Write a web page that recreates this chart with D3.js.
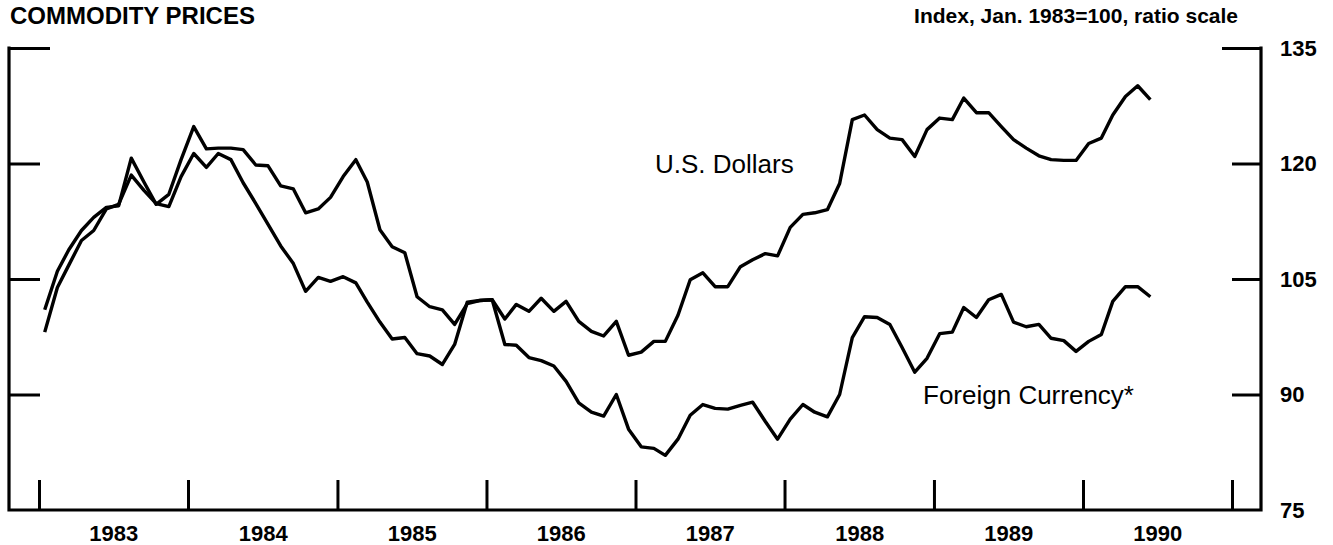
<!DOCTYPE html>
<html><head><meta charset="utf-8">
<script src="https://cdn.jsdelivr.net/npm/d3@7"></script>
<style>
body{margin:0;background:#fff}
svg{display:block}
text{font-family:"Liberation Sans",Arial,Helvetica,sans-serif;fill:#000}
</style>
</head><body>
<svg id="chart" width="1333" height="545"></svg>
<script>
// ---- data (monthly, Jan 1983 – Jun 1990) ----
const startYear = 1983;
const usDollars = [
  101.0,106.0,108.8,111.3,113.0,114.3,114.5,120.7,117.6,114.7,116.0,120.5,
  124.8,121.9,122.0,122.0,121.8,119.8,119.7,117.1,116.7,113.6,114.1,115.6,
  118.3,120.5,117.6,111.4,109.2,108.4,102.7,101.4,101.0,99.1,101.8,102.2,
  102.3,99.8,101.7,100.8,102.5,100.8,102.1,99.5,98.2,97.6,99.5,95.1,
  95.5,96.9,96.9,100.3,104.9,105.8,104.0,104.0,106.6,107.5,108.3,108.0,
  111.7,113.4,113.6,114.0,117.4,125.7,126.3,124.4,123.3,123.1,120.9,124.4,
  125.9,125.7,128.5,126.6,126.6,124.8,123.1,122.0,121.0,120.5,120.4,120.4,
  122.6,123.3,126.3,128.7,130.1,128.3
];
const foreignCurrency = [
  98.1,103.9,106.8,110.0,111.3,114.1,114.7,118.5,116.5,114.8,114.4,118.3,
  121.3,119.5,121.3,120.5,117.5,114.8,112.1,109.3,107.0,103.4,105.2,104.7,
  105.3,104.5,102.0,99.4,97.2,97.4,95.3,95.0,93.9,96.5,102.0,102.2,
  102.3,96.5,96.4,94.8,94.4,93.7,91.7,88.9,87.7,87.2,90.0,85.5,
  83.2,83.0,82.1,84.2,87.3,88.7,88.2,88.1,88.6,89.0,86.5,84.2,
  86.8,88.7,87.7,87.1,90.0,97.4,100.1,100.0,99.1,96.1,92.9,94.7,
  97.9,98.1,101.3,100.0,102.3,103.0,99.4,98.8,99.1,97.3,97.0,95.6,
  96.9,97.8,102.1,104.0,104.0,102.7
];
const yearTickYears = [1983,1984,1985,1986,1987,1988,1989,1990,1991];
const yearLabels = [1983,1984,1985,1986,1987,1988,1989,1990];
const yTickValues = [75,90,105,120,135];
const titleText = "COMMODITY PRICES";
const subtitleText = "Index, Jan. 1983=100, ratio scale";
const seriesLabels = ["U.S. Dollars","Foreign Currency*"];

// ---- layout ----
const svg = d3.select("#chart");
const left = 9, right = 1261;
const x = d3.scaleTime()
  .domain([new Date(1983,0,1), new Date(1991,0,1)])
  .range([39, 1232]);
const y = d3.scaleLinear().domain([75,135]).range([510,48]);
const monthDate = i => new Date(startYear, i, 15);

// title & subtitle
svg.append("text").attr("x",10).attr("y",24)
  .attr("font-size",24).attr("font-weight","bold").text(titleText);
svg.append("text").attr("x",1238).attr("y",23).attr("text-anchor","end")
  .attr("font-size",21).attr("font-weight","bold").text(subtitleText);

// frame
svg.append("path")
  .attr("d",`M${left},${y(135)}V${y(75)}H${right}V${y(135)}`)
  .attr("fill","none").attr("stroke","#000").attr("stroke-width",3.2)
  .attr("stroke-linecap","square");

// left ticks (pointing inward)
const gl = svg.append("g").attr("transform",`translate(${left},0)`)
  .call(d3.axisLeft(y).tickValues(yTickValues.filter(v=>v!==75)).tickSize(-31).tickFormat(""));
gl.select(".domain").remove();
gl.selectAll(".tick line").attr("stroke","#000").attr("stroke-width",3)
  .attr("x2", d => d===135 ? 41 : 31);

// right ticks + labels
const gr = svg.append("g").attr("transform",`translate(${right},0)`)
  .call(d3.axisRight(y).tickValues(yTickValues).tickSize(-29).tickPadding(19));
gr.select(".domain").remove();
gr.selectAll(".tick line").attr("stroke","#000").attr("stroke-width",3)
  .attr("x2", d => d===75 ? 0 : (d===135 ? -39 : -29));
gr.selectAll(".tick text").attr("font-size",22).attr("font-weight","bold")
  .attr("font-family",'"Liberation Sans",Arial,Helvetica,sans-serif').attr("fill","#000");

// bottom year ticks
const gb = svg.append("g").attr("transform",`translate(0,${y(75)})`)
  .call(d3.axisBottom(x).tickValues(yearTickYears.map(yr=>new Date(yr,0,1))).tickSize(-30).tickFormat(""));
gb.select(".domain").remove();
gb.selectAll(".tick line").attr("stroke","#000").attr("stroke-width",3);

// year labels centred in each year
const gy = svg.append("g").attr("transform",`translate(0,${y(75)})`)
  .call(d3.axisBottom(x).tickValues(yearLabels.map(yr=>new Date(yr,6,2))).tickSize(0).tickPadding(15)
    .tickFormat(d=>d.getFullYear()));
gy.select(".domain").remove();
gy.selectAll(".tick text").attr("font-size",22).attr("font-weight","bold")
  .attr("font-family",'"Liberation Sans",Arial,Helvetica,sans-serif').attr("fill","#000");

// lines
const line = d3.line().x((d,i)=>x(monthDate(i))).y(d=>y(d));
[usDollars, foreignCurrency].forEach(s=>{
  svg.append("path").datum(s).attr("d",line)
    .attr("fill","none").attr("stroke","#000").attr("stroke-width",3.4)
    .attr("stroke-linejoin","round").attr("stroke-linecap","butt");
});

// series labels
svg.append("text").attr("x",655).attr("y",173).attr("font-size",26).text(seriesLabels[0]);
svg.append("text").attr("x",923).attr("y",404).attr("font-size",26).text(seriesLabels[1]);
</script>
</body></html>
